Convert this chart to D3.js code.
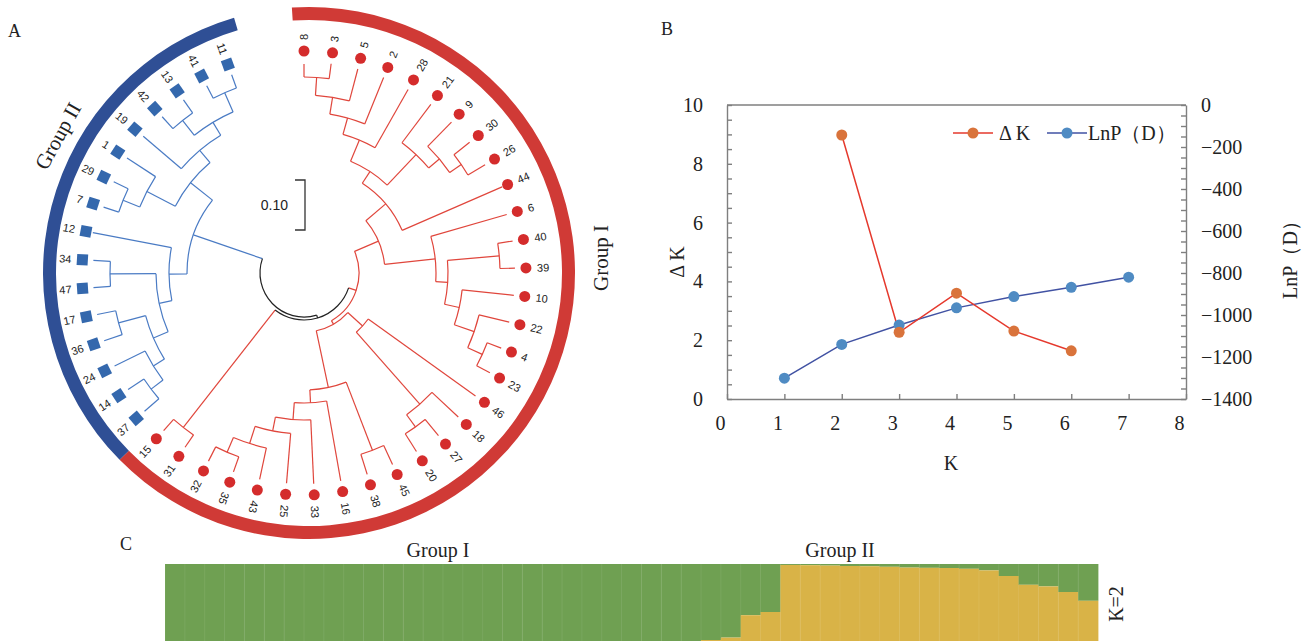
<!DOCTYPE html>
<html>
<head>
<meta charset="utf-8">
<script src="https://cdn.jsdelivr.net/npm/d3@7"></script>
<style>
  body { margin: 0; background: #fff; }
  svg { display: block; }
</style>
</head>
<body>
<div id="root"></div>
<script>
// ---- data ----
// tree edges: parent, child, branch length (0.10 = scale bar)
const edges = [
  ["", "root", 0],
  ["root", "GI", 0.006],
  ["GI", "R1", 0.016],
  ["R1", "UI", 0.052],
  ["UI", "AB44", 0.052],
  ["AB44", "AB", 0.028],
  ["AB", "A", 0.046],
  ["A", "A2", 0.034],
  ["A2", "A3", 0.034],
  ["A3", "A4", 0.036],
  ["A4", "8", 0.026],
  ["A4", "3", 0.030],
  ["A3", "5", 0.066],
  ["A2", "2", 0.100],
  ["A", "28", 0.134],
  ["AB", "B", 0.084],
  ["B", "21", 0.096],
  ["B", "B2", 0.028],
  ["B2", "9", 0.068],
  ["B2", "B3", 0.028],
  ["B3", "30", 0.040],
  ["B3", "26", 0.040],
  ["AB44", "44", 0.218],
  ["UI", "C", 0.102],
  ["C", "6", 0.158],
  ["C", "C2", 0.024],
  ["C2", "C3", 0.104],
  ["C3", "40", 0.030],
  ["C3", "39", 0.030],
  ["C2", "C4", 0.030],
  ["C4", "10", 0.104],
  ["C4", "C5", 0.042],
  ["C5", "22", 0.062],
  ["C5", "C6", 0.032],
  ["C6", "4", 0.030],
  ["C6", "23", 0.030],
  ["R1", "LI", 0.008],
  ["LI", "E", 0.040],
  ["E", "46", 0.264],
  ["E", "E2", 0.192],
  ["E2", "18", 0.072],
  ["E2", "E3", 0.030],
  ["E3", "27", 0.042],
  ["E3", "20", 0.042],
  ["LI", "F", 0.116],
  ["F", "F7", 0.146],
  ["F7", "45", 0.042],
  ["F7", "38", 0.042],
  ["F", "F2", 0.026],
  ["F2", "16", 0.162],
  ["F2", "F3", 0.034],
  ["F3", "33", 0.128],
  ["F3", "F4", 0.028],
  ["F4", "25", 0.100],
  ["F4", "F5", 0.036],
  ["F5", "43", 0.064],
  ["F5", "F6", 0.032],
  ["F6", "35", 0.032],
  ["F6", "32", 0.032],
  ["GI", "G15", 0.298],
  ["G15", "31", 0.030],
  ["G15", "15", 0.030],
  ["root", "GII", 0.146],
  ["GII", "L2", 0.036],
  ["L2", "NL", 0.026],
  ["NL", "L4", 0.032],
  ["L4", "L5", 0.026],
  ["L5", "L5a", 0.030],
  ["L5a", "37", 0.038],
  ["L5a", "14", 0.038],
  ["L5", "24", 0.068],
  ["L4", "L6", 0.056],
  ["L6", "36", 0.038],
  ["L6", "17", 0.038],
  ["NL", "L7", 0.092],
  ["L7", "47", 0.034],
  ["L7", "34", 0.034],
  ["L2", "12", 0.160],
  ["GII", "U2", 0.056],
  ["U2", "U7", 0.064],
  ["U7", "U8", 0.036],
  ["U8", "7", 0.032],
  ["U8", "29", 0.032],
  ["U7", "1", 0.068],
  ["U2", "U3", 0.032],
  ["U3", "19", 0.100],
  ["U3", "U4", 0.030],
  ["U4", "U5", 0.038],
  ["U5", "42", 0.032],
  ["U5", "13", 0.032],
  ["U4", "U6", 0.042],
  ["U6", "41", 0.028],
  ["U6", "11", 0.028]
];
const groupI = ["8","3","5","2","28","21","9","30","26","44","6","40","39","10","22","4",
  "23","46","18","27","20","45","38","16","33","25","43","35","32","31","15"];
const groupII = ["37","14","24","36","17","47","34","12","7","29","1","19","42","13","41","11"];

// panel B
const kAll = [1, 2, 3, 4, 5, 6, 7];
const lnP = [-1301, -1140, -1048, -966, -912, -868, -820];
const kDelta = [2, 3, 4, 5, 6];
const deltaK = [8.98, 2.27, 3.6, 2.31, 1.64];

// panel C, K=2 membership (share of the yellow cluster), sample order as plotted
const yellowShare = [
  0, 0, 0, 0, 0, 0, 0, 0, 0, 0, 0, 0, 0, 0, 0, 0, 0, 0, 0, 0, 0, 0,
  0.005, 0.01, 0.015, 0.02, 0.03, 0.05, 0.08, 0.36, 0.40,
  0.988, 0.985, 0.98, 0.975, 0.972, 0.965, 0.955, 0.952, 0.95, 0.94, 0.92,
  0.85, 0.74, 0.72, 0.65, 0.54
];

// ---- page ----
const width = 1303, height = 641;
const serif = "'Times New Roman', 'Liberation Serif', serif";
const sans = "Arial, 'Liberation Sans', sans-serif";

const svg = d3.select("#root").append("svg")
  .attr("width", width).attr("height", height);

// panel letters
[["A", 8, 37], ["B", 661, 35], ["C", 120, 550]].forEach(([t, x, y]) => {
  svg.append("text").attr("x", x).attr("y", y)
    .attr("font-family", serif).attr("font-size", 18).attr("fill", "#222").text(t);
});

// ================= panel A : circular tree =================
const red = "#e0463c", redDot = "#d42c2c", redRing = "#d03a36";
const blue = "#4a7bc4", blueDot = "#3468ad", blueRing = "#2f4f95";
const rad = Math.PI / 180;
const leafStep = 7.39;
const pt = (r, a) => [r * Math.sin(a * rad), -r * Math.cos(a * rad)];

const tree = d3.stratify().id(d => d[1]).parentId(d => d[0] || null)(edges);
tree.eachBefore(n => n.len = n.parent ? n.parent.len + n.data[2] : 0);
d3.cluster().size([leafStep * 47, 1]).separation(() => 1)(tree);
const ang = n => n.x - leafStep / 2;
const rScale = d3.scaleLinear().domain([0, 0.1]).range([44, 94]);

const colorOf = n => {
  if (n.id === "root" || n.id === "GI") return "#222";
  const ids = n.ancestors().map(a => a.id);
  return ids.includes("GII") ? blue : red;
};

const gA = svg.append("g").attr("transform", "translate(304,273)");

// radial stems
gA.append("g").selectAll("path")
  .data(tree.descendants().filter(n => n.parent))
  .join("path")
  .attr("d", n => "M" + pt(rScale(n.parent.len), ang(n)) + "L" + pt(rScale(n.len), ang(n)))
  .attr("fill", "none").attr("stroke", colorOf).attr("stroke-width", 1.2);

// node arcs
gA.append("g").selectAll("path")
  .data(tree.descendants().filter(n => n.children))
  .join("path")
  .attr("d", n => {
    const p = d3.path();
    const a0 = ang(n.children[0]), a1 = ang(n.children[n.children.length - 1]);
    p.arc(0, 0, rScale(n.len), (a0 - 90) * rad, (a1 - 90) * rad, false);
    return p.toString();
  })
  .attr("fill", "none").attr("stroke", colorOf).attr("stroke-width", 1.2);

// leaf markers and labels
const leaves = tree.leaves();
gA.append("g").selectAll("circle")
  .data(leaves.filter(n => groupI.includes(n.id)))
  .join("circle")
  .attr("cx", n => pt(222, ang(n))[0]).attr("cy", n => pt(222, ang(n))[1])
  .attr("r", 5.5).attr("fill", redDot);

gA.append("g").selectAll("rect")
  .data(leaves.filter(n => groupII.includes(n.id)))
  .join("rect")
  .attr("x", -5.5).attr("y", -5.5).attr("width", 11).attr("height", 11)
  .attr("transform", n => `rotate(${ang(n) - 90}) translate(222,0)`)
  .attr("fill", blueDot);

gA.append("g").selectAll("text")
  .data(leaves)
  .join("text")
  .attr("transform", n => `rotate(${ang(n) - 90}) translate(233,0)` + (ang(n) > 203 ? " rotate(180)" : ""))
  .attr("text-anchor", n => ang(n) > 203 ? "end" : "start")
  .attr("dominant-baseline", "central")
  .attr("font-family", sans).attr("font-size", 11).attr("fill", "#222")
  .text(n => n.id);

// group ring
const firstI = leaves.find(n => n.id === groupI[0]), lastI = leaves.find(n => n.id === groupI[groupI.length - 1]);
const firstII = leaves.find(n => n.id === groupII[0]), lastII = leaves.find(n => n.id === groupII[groupII.length - 1]);
const ring = d3.arc().innerRadius(253).outerRadius(266);
const gRing = svg.append("g").attr("transform", "translate(309,273)");
gRing.append("path")
  .attr("d", ring({ startAngle: (ang(firstI) - leafStep / 2) * rad, endAngle: (ang(lastI) + leafStep / 2) * rad }))
  .attr("fill", redRing);
gRing.append("path")
  .attr("d", ring({ startAngle: (ang(firstII) - leafStep / 2) * rad, endAngle: (ang(lastII) + leafStep / 2) * rad }))
  .attr("fill", blueRing);

svg.append("text").attr("transform", "translate(58,136) rotate(-61)")
  .attr("text-anchor", "middle").attr("dominant-baseline", "central")
  .attr("font-family", serif).attr("font-size", 21).attr("fill", "#222").text("Group II");
svg.append("text").attr("transform", "translate(601,258) rotate(-90)")
  .attr("text-anchor", "middle").attr("dominant-baseline", "central")
  .attr("font-family", serif).attr("font-size", 21).attr("fill", "#222").text("Group I");

// scale bar
const barLen = rScale(0.1) - rScale(0);
const sb = svg.append("g").attr("transform", "translate(305,180)");
sb.append("path").attr("d", `M-10,0H0V${barLen}H-10`)
  .attr("fill", "none").attr("stroke", "#333").attr("stroke-width", 1.3);
sb.append("text").attr("x", -17).attr("y", barLen / 2).attr("text-anchor", "end")
  .attr("dominant-baseline", "central").attr("font-family", sans).attr("font-size", 14)
  .attr("fill", "#222").text("0.10");

// ================= panel B : delta K / LnP =================
const axisGray = "#7f7f7f";
const x = d3.scaleLinear().domain([0, 8]).range([727, 1186]);
const yL = d3.scaleLinear().domain([0, 10]).range([399, 105]);
const yR = d3.scaleLinear().domain([-1400, 0]).range([399, 105]);

const styleAxis = g => {
  g.selectAll("path, line").attr("stroke", axisGray).attr("stroke-width", 1.4);
  g.selectAll("text").attr("font-family", serif).attr("font-size", 20).attr("fill", "#222");
};

svg.append("g").attr("transform", "translate(727,0)")
  .call(d3.axisLeft(yL).tickValues(d3.range(0, 10.01, 0.5))
    .tickFormat(d => d % 2 === 0 ? d : "").tickSizeInner(-5).tickSizeOuter(0).tickPadding(24))
  .call(styleAxis);

svg.append("g").attr("transform", "translate(1186,0)")
  .call(d3.axisRight(yR).tickValues(d3.range(-1400, 1, 50))
    .tickFormat(d => d % 200 === 0 ? d3.format("d")(d) : "").tickSizeInner(-5).tickSizeOuter(0).tickPadding(15))
  .call(styleAxis);

svg.append("g").attr("transform", "translate(0,399)")
  .call(d3.axisBottom(x).ticks(8).tickSizeInner(-5).tickSizeOuter(0).tickPadding(17))
  .call(styleAxis)
  .call(g => g.selectAll("text").attr("dx", -7));

svg.append("line").attr("x1", 727).attr("x2", 1186).attr("y1", 105).attr("y2", 105)
  .attr("stroke", axisGray).attr("stroke-width", 1.4);

const dkRed = "#e5392d", dkDot = "#d9733b", lnLine = "#4152a3", lnDot = "#4f8bc3";

svg.append("path").datum(kAll.map((k, i) => [k, lnP[i]]))
  .attr("d", d3.line().x(d => x(d[0])).y(d => yR(d[1])))
  .attr("fill", "none").attr("stroke", lnLine).attr("stroke-width", 1.5);
svg.append("path").datum(kDelta.map((k, i) => [k, deltaK[i]]))
  .attr("d", d3.line().x(d => x(d[0])).y(d => yL(d[1])))
  .attr("fill", "none").attr("stroke", dkRed).attr("stroke-width", 1.5);

svg.append("g").selectAll("circle").data(kAll.map((k, i) => [k, lnP[i]])).join("circle")
  .attr("cx", d => x(d[0])).attr("cy", d => yR(d[1])).attr("r", 5.5).attr("fill", lnDot);
svg.append("g").selectAll("circle").data(kDelta.map((k, i) => [k, deltaK[i]])).join("circle")
  .attr("cx", d => x(d[0])).attr("cy", d => yL(d[1])).attr("r", 5.5).attr("fill", dkDot);

// legend
const legend = svg.append("g").attr("transform", "translate(953,133)");
[["Δ\u2009K", dkRed, dkDot, 0], ["LnP（D）", lnLine, lnDot, 94]].forEach(([t, lc, dc, dx]) => {
  legend.append("line").attr("x1", dx).attr("x2", dx + 40).attr("stroke", lc).attr("stroke-width", 1.5);
  legend.append("circle").attr("cx", dx + 20).attr("r", 5.5).attr("fill", dc);
  legend.append("text").attr("x", dx + (dx ? 41 : 46)).attr("dominant-baseline", "central")
    .attr("font-family", serif).attr("font-size", 20).attr("fill", "#222").text(t);
});

svg.append("text").attr("transform", "translate(677,262) rotate(-90)")
  .attr("text-anchor", "middle").attr("dominant-baseline", "central")
  .attr("font-family", serif).attr("font-size", 20).attr("fill", "#222").text("Δ\u2009K");
svg.append("text").attr("transform", "translate(1290,255) rotate(-90)")
  .attr("text-anchor", "middle").attr("dominant-baseline", "central")
  .attr("font-family", serif).attr("font-size", 20).attr("fill", "#222").text("LnP（D）");
svg.append("text").attr("x", 951).attr("y", 470).attr("text-anchor", "middle")
  .attr("font-family", serif).attr("font-size", 20).attr("fill", "#222").text("K");

// ================= panel C : structure bar plot =================
const green = "#6fa052", yellow = "#d9b347";
const xb = d3.scaleBand().domain(d3.range(yellowShare.length)).range([165, 1098]);
const yb = d3.scaleLinear().domain([0, 1]).range([644, 564]);

const bars = svg.append("g").selectAll("g").data(yellowShare).join("g");
bars.append("rect")
  .attr("x", (d, i) => xb(i)).attr("width", xb.bandwidth() + 0.4)
  .attr("y", yb(1)).attr("height", d => yb(d) - yb(1))
  .attr("fill", green);
bars.append("rect")
  .attr("x", (d, i) => xb(i)).attr("width", xb.bandwidth() + 0.4)
  .attr("y", d => yb(d)).attr("height", d => yb(0) - yb(d))
  .attr("fill", yellow);
bars.append("line")
  .attr("x1", (d, i) => xb(i)).attr("x2", (d, i) => xb(i))
  .attr("y1", yb(1)).attr("y2", yb(0))
  .attr("stroke", "#fff").attr("stroke-opacity", 0.08);

svg.append("text").attr("x", 438).attr("y", 557).attr("text-anchor", "middle")
  .attr("font-family", serif).attr("font-size", 20).attr("fill", "#222").text("Group I");
svg.append("text").attr("x", 840).attr("y", 557).attr("text-anchor", "middle")
  .attr("font-family", serif).attr("font-size", 20).attr("fill", "#222").text("Group II");
svg.append("text").attr("transform", "translate(1116,604) rotate(-90)")
  .attr("text-anchor", "middle").attr("dominant-baseline", "central")
  .attr("font-family", serif).attr("font-size", 20).attr("fill", "#222").text("K=2");
</script>
</body>
</html>
